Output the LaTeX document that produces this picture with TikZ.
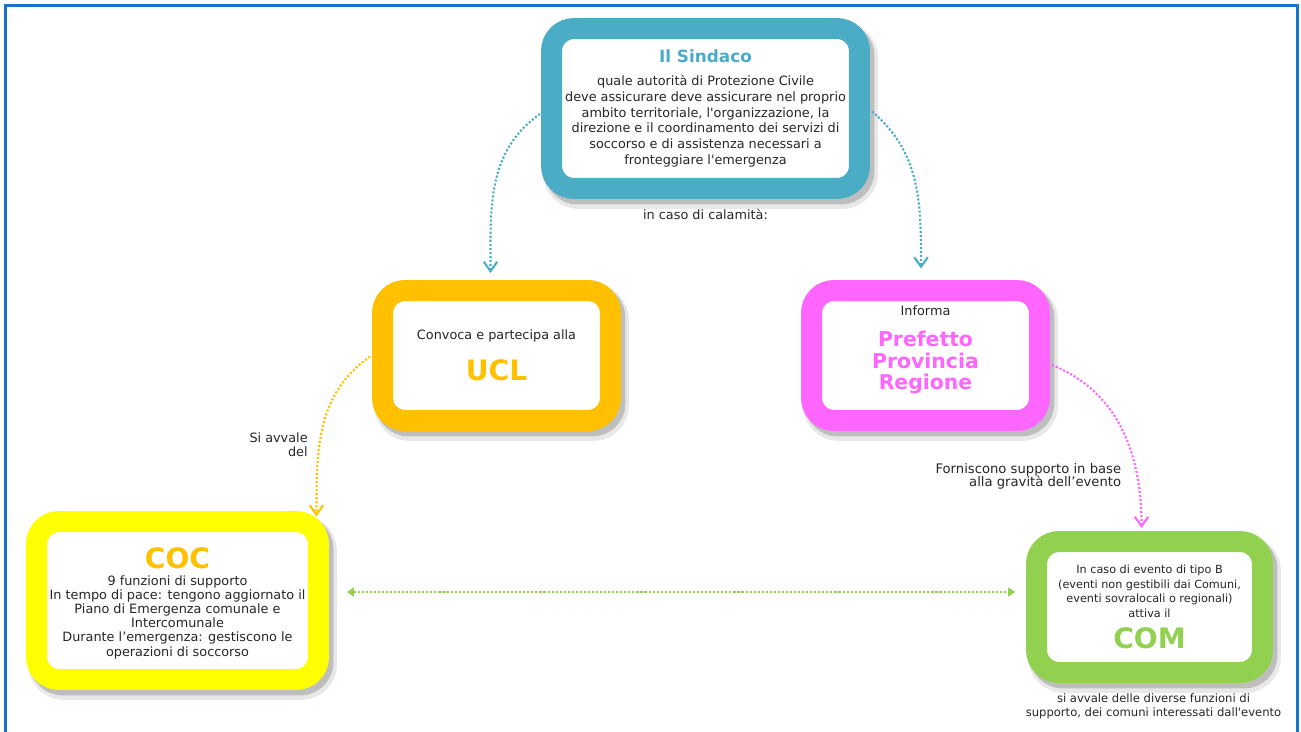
\documentclass[tikz,border=0pt]{standalone}
\usepackage{fontspec}
\setmainfont{DejaVu Sans}
\usetikzlibrary{arrows.meta, positioning}

\definecolor{sindacoblue}{HTML}{4BACC6}
\definecolor{uclorange}{HTML}{FFC000}
\definecolor{prefpink}{HTML}{FF66FF}
\definecolor{cocyellow}{HTML}{FFFF00}
\definecolor{comgreen}{HTML}{92D050}
\definecolor{frameblue}{HTML}{1874CD}
\definecolor{ink}{HTML}{262626}

\begin{document}
\begin{tikzpicture}[
    x=0.02cm, y=-0.02cm,
    box/.style={rectangle, draw=#1, fill=white, line width=0.42cm, rounded corners=0.45cm,
        align=center, inner sep=0pt, text=ink, font=\fontsize{7.3}{8.4}\selectfont,
        preaction={draw=black, fill=black, opacity=0.09, line width=0.54cm, transform canvas={shift={(0.1cm,-0.14cm)}}},
        preaction={draw=black, fill=black, opacity=0.18, line width=0.44cm, transform canvas={shift={(0.08cm,-0.1cm)}}}},
    link/.style={draw=#1, line width=1.2pt, dash pattern=on 1.2pt off 1.1pt, -{Straight Barb[length=1.9mm, width=2.7mm]}},
    both/.style={draw=#1, line width=1.2pt, dash pattern=on 1.2pt off 1.1pt, {Triangle[length=1.4mm, width=1.8mm]}-{Triangle[length=1.4mm, width=1.8mm]}},
    note/.style={font=\fontsize{7.3}{8}\selectfont, text=ink, inner sep=0pt, align=center},
    framebox/.style={draw=frameblue, line width=0.06cm}
]
\useasboundingbox (0,0) rectangle (1301,731);

% outer frame
\draw[framebox] (5.5,735) -- (5.5,5.5) -- (1297.5,5.5) -- (1297.5,735);

% Sindaco
\node[box=sindacoblue, minimum width=6.16cm, minimum height=3.2cm, font=\fontsize{7.3}{8.9}\selectfont] (sindaco) at (705.5,108.5)
    {{\fontsize{9.6}{11}\selectfont\bfseries\color{sindacoblue}Il Sindaco}\\[4.2pt]
     quale autorità di Protezione Civile\\
     deve assicurare deve assicurare nel proprio\\
     ambito territoriale, l\textquotesingle organizzazione, la\\
     direzione e il coordinamento dei servizi di\\
     soccorso e di assistenza necessari a\\
     fronteggiare l\textquotesingle emergenza};
\node[note, below=0.19cm of sindaco] (calamita) {in caso di calamità:};

% UCL and Prefetto
\node[box=uclorange, minimum width=4.56cm, minimum height=2.6cm] (ucl) at (496.5,355.5)
    {Convoca e partecipa alla\\[9pt]{\fontsize{16}{18}\selectfont\bfseries\color{uclorange}UCL}};
\node[box=prefpink, minimum width=4.56cm, minimum height=2.6cm, font=\fontsize{11.6}{12.2}\selectfont\bfseries,
    text=prefpink, text depth=9pt] (prefetto) at (925.5,355.5)
    {{\fontsize{7.3}{8}\mdseries\color{ink}Informa}\\[5.6pt]Prefetto\\Provincia\\Regione};

% COC and COM
\node[box=cocyellow, minimum width=5.64cm, minimum height=3.16cm, font=\fontsize{7.3}{8.1}\selectfont] (coc) at (177.5,600.5)
    {\rule{0pt}{15pt}{\fontsize{16}{18}\selectfont\bfseries\color{uclorange}COC}\\[1.3pt]
     9 funzioni di supporto\\
     In tempo di pace: tengono aggiornato il\\
     Piano di Emergenza comunale e\\
     Intercomunale\\
     Durante l’emergenza: gestiscono le\\
     operazioni di soccorso};
\node[box=comgreen, minimum width=4.52cm, minimum height=2.62cm, font=\fontsize{6.4}{8.4}\selectfont] (com) at (1149.5,607)
    {In caso di evento di tipo B\\
     (eventi non gestibili dai Comuni,\\
     eventi sovralocali o regionali)\\
     attiva il\\[4.9pt]
     {\fontsize{16}{18}\selectfont\bfseries\color{comgreen}COM}};
\node[note, font=\fontsize{6.6}{7.9}\selectfont, below=0.21cm of com, xshift=0.08cm] (comnote)
    {si avvale delle diverse funzioni di\\supporto, dei comuni interessati dall\textquotesingle evento};

% edge labels
\node[note, align=right, anchor=east] (avvale) at (308,445) {Si avvale\\del};
\node[note, font=\fontsize{7.5}{7.6}\selectfont, align=right, anchor=east] (forniscono) at (1121.5,476.5)
    {Forniscono supporto in base\\alla gravità dell’evento};

% connectors
\draw[link=sindacoblue] ([shift={(-1,5.5)}]sindaco.west) to[out=215, in=90] ([shift={(-6,-7)}]ucl.north);
\draw[link=sindacoblue] ([shift={(2,3)}]sindaco.east) to[out=-40, in=90] ([shift={(-4.5,-11.5)}]prefetto.north);
\draw[link=uclorange] ([shift={(-2,1)}]ucl.west) to[out=215, in=90] ([shift={(-12.5,5.5)}]coc.north east);
\draw[link=prefpink] ([shift={(2,9.5)}]prefetto.east) to[out=-22, in=90] ([shift={(-8,-3)}]com.north);
\draw[both=comgreen] ([shift={(18,-8.5)}]coc.east) -- ([shift={(-11,-15)}]com.west);
\end{tikzpicture}
\end{document}
